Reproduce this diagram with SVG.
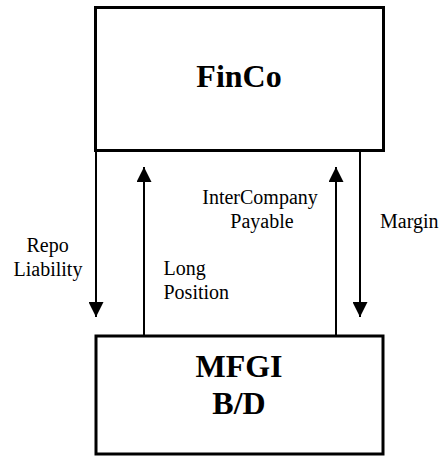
<svg xmlns="http://www.w3.org/2000/svg" width="445" height="457" viewBox="0 0 445 457">
<style>
.box{fill:#fff;stroke:#000;stroke-width:3}
.title{font-family:"Liberation Serif","Times New Roman",serif;font-weight:bold;font-size:32px;fill:#000;text-anchor:middle}
.lbl{font-family:"Liberation Serif","Times New Roman",serif;font-size:20px;fill:#000}
.ln{stroke:#000;stroke-width:2;fill:none;marker-end:url(#ah)}
</style>
<defs>
<marker id="ah" viewBox="0 0 15 15" markerWidth="15" markerHeight="15" markerUnits="userSpaceOnUse" refX="15" refY="7.5" orient="auto">
<path d="M0,0 L15,7.5 L0,15 z" fill="#000"/>
</marker>
</defs>
<g id="connectors">
<line class="ln" x1="96" y1="150" x2="96" y2="317"/>
<line class="ln" x1="144" y1="336" x2="144" y2="167"/>
<line class="ln" x1="336" y1="336" x2="336" y2="167"/>
<line class="ln" x1="360" y1="150" x2="360" y2="317"/>
</g>
<g id="finco">
<rect class="box" x="95.5" y="7.5" width="288" height="143"/>
<text class="title" x="239" y="87">FinCo</text>
</g>
<g id="mfgi">
<rect class="box" x="96" y="336" width="287" height="118"/>
<text class="title" x="239" y="377">MFGI</text>
<text class="title" x="239" y="414">B/D</text>
</g>
<g id="labels">
<text class="lbl" x="26.5" y="252">Repo</text>
<text class="lbl" x="13.5" y="276">Liability</text>
<text class="lbl" x="163.5" y="275">Long</text>
<text class="lbl" x="163.5" y="299">Position</text>
<text class="lbl" x="260" y="204" text-anchor="middle">InterCompany</text>
<text class="lbl" x="262" y="228" text-anchor="middle">Payable</text>
<text class="lbl" x="380" y="228">Margin</text>
</g>
</svg>
